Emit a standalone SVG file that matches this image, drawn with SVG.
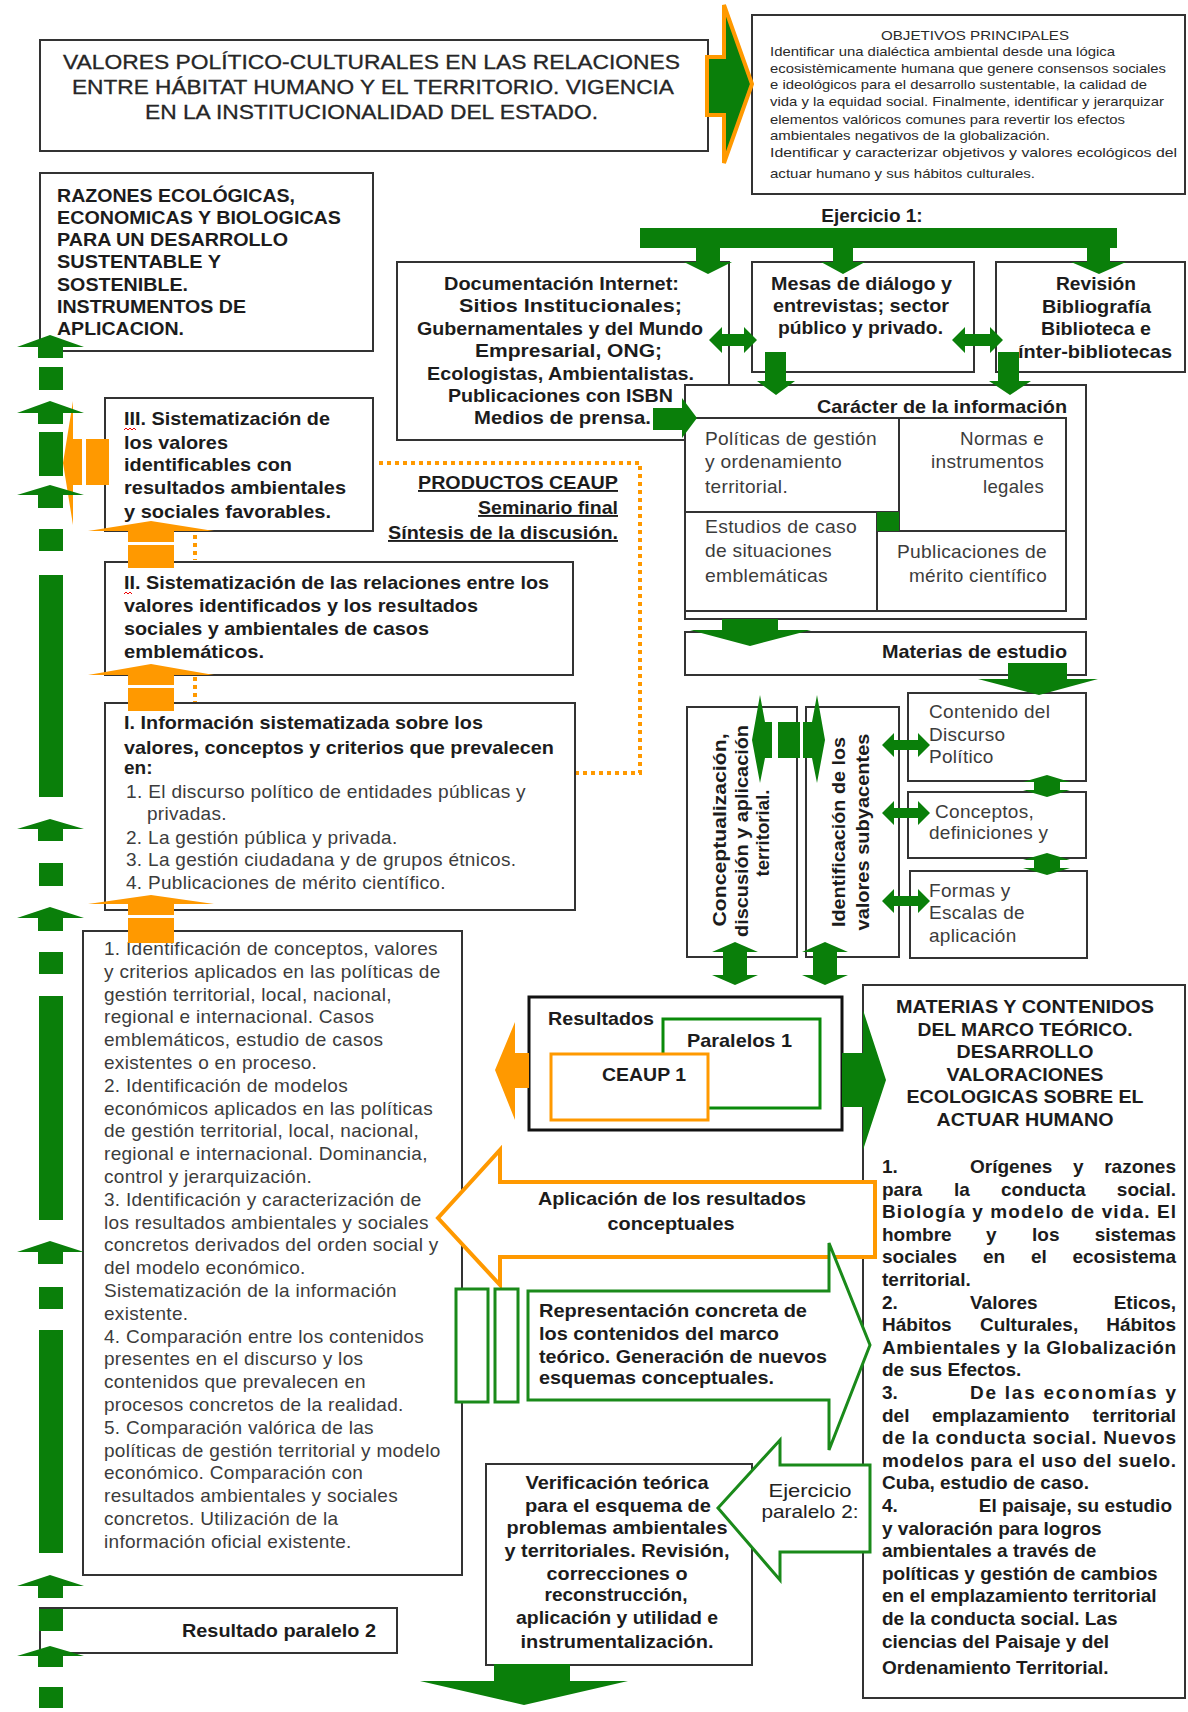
<svg xmlns="http://www.w3.org/2000/svg" width="1188" height="1712" viewBox="0 0 1188 1712">
<style>
text{font-family:"Liberation Sans",Arial,sans-serif}
.b{font-weight:bold;font-size:19px;fill:#1c1c1c}
.r{font-size:19px;fill:#3c3c3c;letter-spacing:0.3px}
.s{font-size:13px;fill:#2a2a2a}
.t{font-size:20.5px;fill:#262626;stroke:#262626;stroke-width:0.3px}
.box{fill:#fff;stroke:#333;stroke-width:2}
.g{fill:#0a7f0a}
.o{fill:#ff9900}
.m{text-anchor:middle}
.e{text-anchor:end}
.u{text-decoration:underline}
.sq{fill:none;stroke:#e00;stroke-width:1}
</style>
<rect width="1188" height="1712" fill="#fff"/>

<g id="title">
<rect class="box" x="40" y="40" width="668" height="111"/>
<text class="t" x="63" y="69" textLength="617" lengthAdjust="spacingAndGlyphs">VALORES POLÍTICO-CULTURALES EN LAS RELACIONES</text>
<text class="t" x="72" y="94" textLength="602" lengthAdjust="spacingAndGlyphs">ENTRE HÁBITAT HUMANO Y EL TERRITORIO. VIGENCIA</text>
<text class="t" x="145" y="119" textLength="453" lengthAdjust="spacingAndGlyphs">EN LA INSTITUCIONALIDAD DEL ESTADO.</text>
</g>

<g id="objetivos">
<rect class="box" x="752" y="15" width="433" height="179"/>
<text class="s" x="881" y="40" textLength="188" lengthAdjust="spacingAndGlyphs">OBJETIVOS PRINCIPALES</text>
<text class="s" x="770" y="56" textLength="345" lengthAdjust="spacingAndGlyphs">Identificar una dialéctica ambiental desde una lógica</text>
<text class="s" x="770" y="73" textLength="396" lengthAdjust="spacingAndGlyphs">ecosistèmicamente humana que genere consensos sociales</text>
<text class="s" x="770" y="89" textLength="377" lengthAdjust="spacingAndGlyphs">e ideológicos para el desarrollo sustentable, la calidad de</text>
<text class="s" x="770" y="106" textLength="394" lengthAdjust="spacingAndGlyphs">vida y la equidad social. Finalmente, identificar y jerarquizar</text>
<text class="s" x="770" y="124" textLength="355" lengthAdjust="spacingAndGlyphs">elementos valóricos comunes para revertir los efectos</text>
<text class="s" x="770" y="140" textLength="280" lengthAdjust="spacingAndGlyphs">ambientales negativos de la globalización.</text>
<text class="s" x="770" y="157" textLength="407" lengthAdjust="spacingAndGlyphs">Identificar y caracterizar objetivos y valores ecológicos del</text>
<text class="s" x="770" y="178" textLength="265" lengthAdjust="spacingAndGlyphs">actuar humano y sus hábitos culturales.</text>
</g>

<g id="ejercicio1">
<text class="b m" x="872" y="222">Ejercicio 1:</text>
</g>

<g id="razones">
<rect class="box" x="40" y="173" width="333" height="178"/>
<text class="b" x="57" y="202" textLength="238" lengthAdjust="spacingAndGlyphs">RAZONES ECOLÓGICAS,</text>
<text class="b" x="57" y="224" textLength="284" lengthAdjust="spacingAndGlyphs">ECONOMICAS Y BIOLOGICAS</text>
<text class="b" x="57" y="246" textLength="231" lengthAdjust="spacingAndGlyphs">PARA UN DESARROLLO</text>
<text class="b" x="57" y="268" textLength="164" lengthAdjust="spacingAndGlyphs">SUSTENTABLE Y</text>
<text class="b" x="57" y="291" textLength="131" lengthAdjust="spacingAndGlyphs">SOSTENIBLE.</text>
<text class="b" x="57" y="313" textLength="189" lengthAdjust="spacingAndGlyphs">INSTRUMENTOS DE</text>
<text class="b" x="57" y="335" textLength="127" lengthAdjust="spacingAndGlyphs">APLICACION.</text>
</g>

<g id="documentacion">
<rect class="box" x="397" y="262" width="332" height="178"/>
<text class="b" x="444" y="290" textLength="235" lengthAdjust="spacingAndGlyphs">Documentación Internet:</text>
<text class="b" x="459" y="312" textLength="223" lengthAdjust="spacingAndGlyphs">Sitios Institucionales;</text>
<text class="b" x="417" y="335" textLength="286" lengthAdjust="spacingAndGlyphs">Gubernamentales y del Mundo</text>
<text class="b" x="475" y="357" textLength="187" lengthAdjust="spacingAndGlyphs">Empresarial, ONG;</text>
<text class="b" x="427" y="380" textLength="267" lengthAdjust="spacingAndGlyphs">Ecologistas, Ambientalistas.</text>
<text class="b" x="448" y="402" textLength="225" lengthAdjust="spacingAndGlyphs">Publicaciones con ISBN</text>
<text class="b" x="474" y="424" textLength="177" lengthAdjust="spacingAndGlyphs">Medios de prensa.</text>
</g>

<g id="mesas">
<rect class="box" x="752" y="262" width="222" height="110"/>
<text class="b" x="771" y="290" textLength="181" lengthAdjust="spacingAndGlyphs">Mesas de diálogo y</text>
<text class="b" x="773" y="312" textLength="176" lengthAdjust="spacingAndGlyphs">entrevistas; sector</text>
<text class="b" x="778" y="334" textLength="165" lengthAdjust="spacingAndGlyphs">público y privado.</text>
</g>

<g id="revision">
<rect class="box" x="996" y="262" width="189" height="110"/>
<text class="b" x="1056" y="290" textLength="80" lengthAdjust="spacingAndGlyphs">Revisión</text>
<text class="b" x="1042" y="313" textLength="109" lengthAdjust="spacingAndGlyphs">Bibliografía</text>
<text class="b" x="1041" y="335" textLength="110" lengthAdjust="spacingAndGlyphs">Biblioteca e</text>
<text class="b" x="1018" y="358" textLength="154" lengthAdjust="spacingAndGlyphs">ínter-bibliotecas</text>
</g>

<g id="caracter">
<rect class="box" x="685" y="385" width="401" height="234"/>
<text class="b" x="817" y="413" textLength="250" lengthAdjust="spacingAndGlyphs">Carácter de la información</text>
<path d="M686,418 H1066 V611 H686 M899,418 V531 M686,512 H899 M877,531 H1066 M877,512 V611" fill="none" stroke="#333" stroke-width="2"/>
<rect class="g" x="877" y="512" width="22" height="19"/>
<text class="r" x="705" y="445" textLength="172" lengthAdjust="spacingAndGlyphs">Políticas de gestión</text>
<text class="r" x="705" y="468" textLength="137" lengthAdjust="spacingAndGlyphs">y ordenamiento</text>
<text class="r" x="705" y="493" textLength="83" lengthAdjust="spacingAndGlyphs">territorial.</text>
<text class="r" x="960" y="445" textLength="84" lengthAdjust="spacingAndGlyphs">Normas e</text>
<text class="r" x="931" y="468" textLength="113" lengthAdjust="spacingAndGlyphs">instrumentos</text>
<text class="r" x="983" y="493" textLength="61" lengthAdjust="spacingAndGlyphs">legales</text>
<text class="r" x="705" y="533" textLength="152" lengthAdjust="spacingAndGlyphs">Estudios de caso</text>
<text class="r" x="705" y="557" textLength="127" lengthAdjust="spacingAndGlyphs">de situaciones</text>
<text class="r" x="705" y="582" textLength="123" lengthAdjust="spacingAndGlyphs">emblemáticas</text>
<text class="r" x="897" y="558" textLength="150" lengthAdjust="spacingAndGlyphs">Publicaciones de</text>
<text class="r" x="909" y="582" textLength="138" lengthAdjust="spacingAndGlyphs">mérito científico</text>
</g>

<g id="materias-estudio">
<rect class="box" x="685" y="632" width="401" height="43"/>
<text class="b" x="882" y="658" textLength="185" lengthAdjust="spacingAndGlyphs">Materias de estudio</text>
</g>

<g id="contenido">
<rect class="box" x="908" y="693" width="178" height="88"/>
<text class="r" x="929" y="718">Contenido del</text>
<text class="r" x="929" y="741">Discurso</text>
<text class="r" x="929" y="763">Político</text>
</g>
<g id="conceptos">
<rect class="box" x="908" y="792" width="178" height="66"/>
<text class="r" x="935" y="818">Conceptos,</text>
<text class="r" x="929" y="839">definiciones y</text>
</g>
<g id="formas">
<rect class="box" x="910" y="871" width="177" height="87"/>
<text class="r" x="929" y="897">Formas y</text>
<text class="r" x="929" y="919">Escalas de</text>
<text class="r" x="929" y="942">aplicación</text>
</g>

<g id="conceptualizacion">
<rect class="box" x="687" y="707" width="110" height="250"/>
<text class="b m" transform="translate(726,830) rotate(-90)" textLength="193" lengthAdjust="spacingAndGlyphs">Conceptualización,</text>
<text class="b m" transform="translate(748,831) rotate(-90)" textLength="212" lengthAdjust="spacingAndGlyphs">discusión y aplicación</text>
<text class="b m" transform="translate(769,833) rotate(-90)" textLength="87" lengthAdjust="spacingAndGlyphs">territorial.</text>
</g>
<g id="identificacion">
<rect class="box" x="806" y="707" width="93" height="250"/>
<text class="b m" transform="translate(845,832) rotate(-90)" textLength="190" lengthAdjust="spacingAndGlyphs">Identificación de los</text>
<text class="b m" transform="translate(869,832) rotate(-90)" textLength="197" lengthAdjust="spacingAndGlyphs">valores subyacentes</text>
</g>

<g id="sistematizacion-III">
<rect class="box" x="105" y="398" width="268" height="133"/>
<text class="b" x="124" y="425" textLength="206" lengthAdjust="spacingAndGlyphs">III. Sistematización de</text>
<text class="b" x="124" y="449" textLength="104" lengthAdjust="spacingAndGlyphs">los valores</text>
<text class="b" x="124" y="471" textLength="168" lengthAdjust="spacingAndGlyphs">identificables con</text>
<text class="b" x="124" y="494" textLength="222" lengthAdjust="spacingAndGlyphs">resultados ambientales</text>
<text class="b" x="124" y="518" textLength="207" lengthAdjust="spacingAndGlyphs">y sociales favorables.</text>
<polyline class="sq" points="124,430 126,428 128,430 130,428 132,430 134,428 136,430"/>
</g>

<g id="productos">
<text class="b e u" x="618" y="489" textLength="200" lengthAdjust="spacingAndGlyphs">PRODUCTOS CEAUP</text>
<text class="b e u" x="618" y="514" textLength="140" lengthAdjust="spacingAndGlyphs">Seminario final</text>
<text class="b e u" x="618" y="539" textLength="230" lengthAdjust="spacingAndGlyphs">Síntesis de la discusión.</text>
</g>

<g id="sistematizacion-II">
<rect class="box" x="105" y="562" width="468" height="113"/>
<text class="b" x="124" y="589" textLength="425" lengthAdjust="spacingAndGlyphs">II. Sistematización de las relaciones entre los</text>
<text class="b" x="124" y="612" textLength="354" lengthAdjust="spacingAndGlyphs">valores identificados y los resultados</text>
<text class="b" x="124" y="635" textLength="305" lengthAdjust="spacingAndGlyphs">sociales y ambientales de casos</text>
<text class="b" x="124" y="658" textLength="140" lengthAdjust="spacingAndGlyphs">emblemáticos.</text>
<polyline class="sq" points="124,594 126,592 128,594 130,592 132,594"/>
</g>

<g id="informacion-I">
<rect class="box" x="105" y="703" width="470" height="207"/>
<text class="b" x="124" y="729" textLength="359" lengthAdjust="spacingAndGlyphs">I. Información sistematizada sobre los</text>
<text class="b" x="124" y="754" textLength="430" lengthAdjust="spacingAndGlyphs">valores, conceptos y criterios que prevalecen</text>
<text class="b" x="124" y="774">en:</text>
<text class="r" x="126" y="798" textLength="400" lengthAdjust="spacingAndGlyphs">1. El discurso político de entidades públicas y</text>
<text class="r" x="147" y="820">privadas.</text>
<text class="r" x="126" y="844">2. La gestión pública y privada.</text>
<text class="r" x="126" y="866">3. La gestión ciudadana y de grupos étnicos.</text>
<text class="r" x="126" y="889">4. Publicaciones de mérito científico.</text>
</g>

<g id="identificacion-lista">
<rect class="box" x="83" y="931" width="379" height="644"/>
<text class="r" x="104" y="955">1. Identificación de conceptos, valores</text>
<text class="r" x="104" y="977.8">y criterios aplicados en las políticas de</text>
<text class="r" x="104" y="1000.6">gestión territorial, local, nacional,</text>
<text class="r" x="104" y="1023.4">regional e internacional.  Casos</text>
<text class="r" x="104" y="1046.2">emblemáticos, estudio de casos</text>
<text class="r" x="104" y="1069">existentes o en proceso.</text>
<text class="r" x="104" y="1091.8">2. Identificación de modelos</text>
<text class="r" x="104" y="1114.6">económicos aplicados en las políticas</text>
<text class="r" x="104" y="1137.4">de gestión territorial, local, nacional,</text>
<text class="r" x="104" y="1160.2">regional e internacional. Dominancia,</text>
<text class="r" x="104" y="1183">control y jerarquización.</text>
<text class="r" x="104" y="1205.8">3. Identificación y caracterización de</text>
<text class="r" x="104" y="1228.6">los resultados ambientales y sociales</text>
<text class="r" x="104" y="1251.4">concretos derivados del orden social y</text>
<text class="r" x="104" y="1274.2">del modelo económico.</text>
<text class="r" x="104" y="1297">Sistematización de la información</text>
<text class="r" x="104" y="1319.8">existente.</text>
<text class="r" x="104" y="1342.6">4. Comparación entre los contenidos</text>
<text class="r" x="104" y="1365.4">presentes en el discurso y los</text>
<text class="r" x="104" y="1388.2">contenidos que prevalecen en</text>
<text class="r" x="104" y="1411">procesos concretos de la realidad.</text>
<text class="r" x="104" y="1433.8">5. Comparación valórica de las</text>
<text class="r" x="104" y="1456.6">políticas de gestión territorial y modelo</text>
<text class="r" x="104" y="1479.4">económico. Comparación con</text>
<text class="r" x="104" y="1502.2">resultados ambientales y sociales</text>
<text class="r" x="104" y="1525">concretos. Utilización de la</text>
<text class="r" x="104" y="1547.8">información oficial existente.</text>
</g>

<g id="resultado-paralelo-2">
<rect class="box" x="40" y="1608" width="357" height="45"/>
<text class="b e" x="376" y="1637" textLength="194" lengthAdjust="spacingAndGlyphs">Resultado paralelo 2</text>
</g>

<g id="resultados">
<rect x="529" y="997" width="313" height="133" fill="#fff" stroke="#111" stroke-width="3"/>
<text class="b" x="548" y="1025" textLength="106" lengthAdjust="spacingAndGlyphs">Resultados</text>
<rect x="663" y="1019" width="157" height="89" fill="#fff" stroke="#0a8a0a" stroke-width="3"/>
<text class="b" x="687" y="1047" textLength="105" lengthAdjust="spacingAndGlyphs">Paralelos 1</text>
<rect x="551" y="1054" width="157" height="66" fill="#fff" stroke="#ff9900" stroke-width="3"/>
<text class="b" x="602" y="1081" textLength="84" lengthAdjust="spacingAndGlyphs">CEAUP 1</text>
</g>

<g id="marco-teorico">
<rect class="box" x="863" y="985" width="322" height="713"/>
<text class="b m" x="1025" y="1013" textLength="258" lengthAdjust="spacingAndGlyphs">MATERIAS Y CONTENIDOS</text>
<text class="b m" x="1025" y="1036" textLength="215" lengthAdjust="spacingAndGlyphs">DEL MARCO TEÓRICO.</text>
<text class="b m" x="1025" y="1058" textLength="137" lengthAdjust="spacingAndGlyphs">DESARROLLO</text>
<text class="b m" x="1025" y="1081" textLength="157" lengthAdjust="spacingAndGlyphs">VALORACIONES</text>
<text class="b m" x="1025" y="1103" textLength="237" lengthAdjust="spacingAndGlyphs">ECOLOGICAS SOBRE EL</text>
<text class="b m" x="1025" y="1126" textLength="177" lengthAdjust="spacingAndGlyphs">ACTUAR HUMANO</text>

<text class="b" y="1173"><tspan x="882">1.</tspan><tspan x="970">Orígenes</tspan><tspan x="1073">y</tspan></text>
<text class="b e" x="1176" y="1173">razones</text>
<text class="b" y="1195.6"><tspan x="882">para</tspan><tspan x="954">la</tspan><tspan x="1001">conducta</tspan></text>
<text class="b e" x="1176" y="1195.6">social.</text>
<text class="b" x="882" y="1218.2" textLength="294" lengthAdjust="spacing">Biología y modelo de vida. El</text>
<text class="b" y="1240.8"><tspan x="882">hombre</tspan><tspan x="986">y</tspan><tspan x="1032">los</tspan></text>
<text class="b e" x="1176" y="1240.8">sistemas</text>
<text class="b" y="1263.4"><tspan x="882">sociales</tspan><tspan x="983">en</tspan><tspan x="1031">el</tspan></text>
<text class="b e" x="1176" y="1263.4">ecosistema</text>
<text class="b" x="882" y="1286">territorial.</text>
<text class="b" y="1308.6"><tspan x="882">2.</tspan><tspan x="970">Valores</tspan></text>
<text class="b e" x="1176" y="1308.6">Eticos,</text>
<text class="b" y="1331.2"><tspan x="882">Hábitos</tspan><tspan x="980">Culturales,</tspan></text>
<text class="b e" x="1176" y="1331.2">Hábitos</text>
<text class="b" x="882" y="1353.8" textLength="294" lengthAdjust="spacing">Ambientales y la Globalización</text>
<text class="b" x="882" y="1376.4">de sus Efectos.</text>
<text class="b" x="882" y="1399">3.</text>
<text class="b" x="970" y="1399" textLength="206" lengthAdjust="spacing">De las economías y</text>
<text class="b" y="1421.6"><tspan x="882">del</tspan><tspan x="932">emplazamiento</tspan></text>
<text class="b e" x="1176" y="1421.6">territorial</text>
<text class="b" x="882" y="1444.2" textLength="294" lengthAdjust="spacing">de la conducta social. Nuevos</text>
<text class="b" x="882" y="1466.8" textLength="294" lengthAdjust="spacing">modelos para el uso del suelo.</text>
<text class="b" x="882" y="1489.4">Cuba, estudio de caso.</text>
<text class="b" x="882" y="1512">4.</text>
<text class="b e" x="1172" y="1512">El paisaje, su estudio</text>
<text class="b" x="882" y="1534.6">y valoración para logros</text>
<text class="b" x="882" y="1557.2">ambientales a través de</text>
<text class="b" x="882" y="1579.8">políticas y gestión de cambios</text>
<text class="b" x="882" y="1602.4">en el emplazamiento territorial</text>
<text class="b" x="882" y="1625">de la conducta social. Las</text>
<text class="b" x="882" y="1647.6">ciencias del Paisaje y del</text>
<text class="b" x="882" y="1674">Ordenamiento Territorial.</text>
</g>

<g id="verificacion">
<rect class="box" x="486" y="1464" width="266" height="201"/>
<text class="b m" x="617" y="1489" textLength="183" lengthAdjust="spacingAndGlyphs">Verificación teórica</text>
<text class="b m" x="618" y="1512" textLength="186" lengthAdjust="spacingAndGlyphs">para el esquema de</text>
<text class="b m" x="617" y="1534" textLength="221" lengthAdjust="spacingAndGlyphs">problemas ambientales</text>
<text class="b m" x="617" y="1557" textLength="225" lengthAdjust="spacingAndGlyphs">y territoriales. Revisión,</text>
<text class="b m" x="617" y="1580" textLength="141" lengthAdjust="spacingAndGlyphs">correcciones o</text>
<text class="b m" x="616" y="1601" textLength="143" lengthAdjust="spacingAndGlyphs">reconstrucción,</text>
<text class="b m" x="617" y="1624" textLength="202" lengthAdjust="spacingAndGlyphs">aplicación y utilidad e</text>
<text class="b m" x="617" y="1648" textLength="193" lengthAdjust="spacingAndGlyphs">instrumentalización.</text>
</g>

<g id="connectors">
<polygon points="707,57 724,57 724,5 752,84 724,163 724,115 707,115" fill="#0a7f0a" stroke="#ff9900" stroke-width="4"/>
<rect class="g" x="640" y="228" width="477" height="20"/>
<polygon class="g" points="696,247 720,247 720,262 732,262 708,274 684,262 696,262"/>
<polygon class="g" points="833,247 853,247 853,262 865,262 843,274 821,262 833,262"/>
<polygon class="g" points="1087,247 1110,247 1110,262 1126,262 1099,274 1071,262 1087,262"/>
<polygon class="g" points="709,340 722,327 722,334 744,334 744,327 757,340 744,353 744,346 722,346 722,353"/>
<polygon class="g" points="952,340 965,327 965,334 990,334 990,327 1003,340 990,353 990,346 965,346 965,353"/>
<polygon class="g" points="765,352 786,352 786,381 795,381 776,395 757,381 765,381"/>
<polygon class="g" points="998,352 1019,352 1019,381 1031,381 1010,395 989,381 998,381"/>
<polygon class="g" points="653,408 682,408 682,398 697,418 682,438 682,430 653,430"/>
<polygon class="g" points="722,619 778,619 778,630 811,630 750,646 690,630 722,630"/>
<polygon class="g" points="1008,663 1067,663 1067,679 1098,679 1039,695 978,679 1008,679"/>
<polygon class="g" points="1047,775 1070,782 1060,782 1060,790 1070,790 1047,797 1023,790 1034,790 1034,782 1023,782"/>
<polygon class="g" points="1047,853 1070,860 1060,860 1060,868 1070,868 1047,875 1023,868 1034,868 1034,860 1023,860"/>
<polygon class="g" points="882,745 894,733 894,740 918,740 918,733 930,745 918,757 918,750 894,750 894,757"/>
<polygon class="g" points="882,813 894,801 894,808 918,808 918,801 930,813 918,825 918,818 894,818 894,825"/>
<polygon class="g" points="882,901 894,889 894,896 918,896 918,889 930,901 918,913 918,906 894,906 894,913"/>
<polygon class="g" points="772,722 765,722 760,695 752,740 760,783 765,758 772,758"/>
<rect class="g" x="778" y="722" width="22" height="36"/>
<polygon class="g" points="803,722 812,722 817,695 825,740 817,783 812,758 803,758"/>
<polygon class="g" points="735,942 758,952 747,952 747,975 758,975 735,985 712,975 723,975 723,952 712,952"/>
<polygon class="g" points="825,942 848,952 837,952 837,975 848,975 825,985 802,975 813,975 813,952 802,952"/>
<polygon class="o" points="529,1053 515,1053 515,1022 495,1070 515,1120 515,1088 529,1088"/>
<polygon class="g" points="842,1053 863,1053 863,1010 886,1080 863,1150 863,1107 842,1107"/>
<polygon points="875,1182 500,1182 500,1150 438,1218 500,1285 500,1257 875,1257" fill="#fff" stroke="#ff9900" stroke-width="4"/>
<text class="b m" x="672" y="1205" textLength="268" lengthAdjust="spacingAndGlyphs">Aplicación de los resultados</text>
<text class="b m" x="671" y="1230" textLength="127" lengthAdjust="spacingAndGlyphs">conceptuales</text>
<polygon points="528,1291 829,1291 829,1243 870,1345 829,1450 829,1400 528,1400" fill="#fff" stroke="#1a8a1a" stroke-width="3"/>
<rect x="456" y="1289" width="32" height="113" fill="#fff" stroke="#1a8a1a" stroke-width="3"/>
<rect x="495" y="1289" width="23" height="113" fill="#fff" stroke="#1a8a1a" stroke-width="3"/>
<text class="b" x="539" y="1317" textLength="268" lengthAdjust="spacingAndGlyphs">Representación concreta de</text>
<text class="b" x="539" y="1340" textLength="240" lengthAdjust="spacingAndGlyphs">los contenidos del marco</text>
<text class="b" x="539" y="1363" textLength="288" lengthAdjust="spacingAndGlyphs">teórico. Generación de nuevos</text>
<text class="b" x="539" y="1384" textLength="235" lengthAdjust="spacingAndGlyphs">esquemas conceptuales.</text>
<polygon points="870,1465 780,1465 780,1440 718,1508 780,1580 780,1552 870,1552" fill="#fff" stroke="#1a8a1a" stroke-width="3"/>
<text class="m" x="810" y="1497" style="font-size:19px;fill:#222" textLength="83" lengthAdjust="spacingAndGlyphs">Ejercicio</text>
<text class="m" x="810" y="1518" style="font-size:19px;fill:#222" textLength="97" lengthAdjust="spacingAndGlyphs">paralelo 2:</text>
<polygon class="g" points="494,1664 570,1664 570,1681 628,1681 524,1705 420,1681 494,1681"/>
<polygon class="o" points="88,531 151,521 214,531"/>
<rect class="o" x="128" y="531" width="46" height="11"/>
<rect class="o" x="128" y="545" width="46" height="23"/>
<polygon class="o" points="88,675 151,664 214,675"/>
<rect class="o" x="128" y="675" width="46" height="10"/>
<rect class="o" x="128" y="688" width="46" height="23"/>
<polygon class="o" points="88,904 151,895 214,904"/>
<rect class="o" x="128" y="904" width="46" height="11"/>
<rect class="o" x="128" y="918" width="46" height="25"/>
<polygon class="o" points="73,401 73,439 82,439 82,485 73,485 73,525 63,463"/>
<rect class="o" x="86" y="439" width="23" height="46"/>
<path d="M379,463 H640 V773 H576" fill="none" stroke="#ff9900" stroke-width="4" stroke-dasharray="4 4"/>
<path d="M195,535 V560 M195,677 V702" fill="none" stroke="#ff9900" stroke-width="4" stroke-dasharray="4 4"/>
<polygon class="g" points="17,347 50,335 84,347 63,347 63,358 38,358 38,347"/>
<rect class="g" x="39" y="367" width="24" height="23"/>
<polygon class="g" points="17,413 50,401 84,413 63,413 63,424 38,424 38,413"/>
<rect class="g" x="39" y="432" width="24" height="44"/>
<polygon class="g" points="17,495 50,485 84,495 63,495 63,508 38,508 38,495"/>
<rect class="g" x="39" y="529" width="24" height="22"/>
<rect class="g" x="39" y="575" width="24" height="222"/>
<polygon class="g" points="17,829 50,819 84,829 63,829 63,841 38,841 38,829"/>
<rect class="g" x="39" y="863" width="24" height="23"/>
<polygon class="g" points="17,918 50,907 84,918 63,918 63,931 38,931 38,918"/>
<rect class="g" x="39" y="952" width="24" height="22"/>
<rect class="g" x="39" y="996" width="24" height="224"/>
<polygon class="g" points="17,1252 50,1241 84,1252 63,1252 63,1264 38,1264 38,1252"/>
<rect class="g" x="39" y="1287" width="24" height="22"/>
<rect class="g" x="39" y="1330" width="24" height="223"/>
<polygon class="g" points="17,1586 50,1575 84,1586 63,1586 63,1598 38,1598 38,1586"/>
<rect class="g" x="39" y="1609" width="24" height="22"/>
<polygon class="g" points="17,1656 50,1646 84,1656 63,1656 63,1667 38,1667 38,1656"/>
<rect class="g" x="39" y="1687" width="24" height="21"/>
</g>
</svg>
